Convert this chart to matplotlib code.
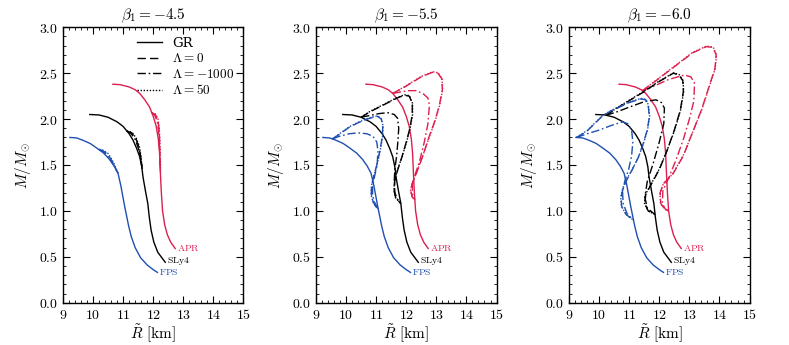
import matplotlib
matplotlib.use("Agg")
import matplotlib.pyplot as plt
from matplotlib.ticker import MultipleLocator, FormatStrFormatter

plt.rcParams.update({
    'font.family': 'serif',
    'font.serif': ['DejaVu Serif'],
    'mathtext.fontset': 'cm',
    'axes.linewidth': 1.0,
})

# GR sequences (same in every panel), (R [km], M/Msun)
fps_gr = [(9.23, 1.80), (9.45, 1.795), (9.66, 1.77), (9.9, 1.735), (10.1, 1.69), (10.35, 1.63),
          (10.55, 1.56), (10.7, 1.49), (10.83, 1.41), (10.92, 1.28), (11.0, 1.14), (11.05, 1.05),
          (11.1, 0.97), (11.18, 0.84), (11.27, 0.72), (11.4, 0.6), (11.58, 0.49), (11.8, 0.41),
          (12.0, 0.36), (12.14, 0.33)]
sly4_gr = [(9.89, 2.05), (10.2, 2.045), (10.5, 2.02), (10.8, 1.97), (11.0, 1.92), (11.2, 1.84),
           (11.33, 1.77), (11.45, 1.68), (11.55, 1.59), (11.62, 1.48), (11.66, 1.37), (11.74, 1.22),
           (11.82, 1.08), (11.87, 0.93), (11.93, 0.79), (12.02, 0.66), (12.15, 0.55), (12.4, 0.44)]
apr_gr = [(10.66, 2.38), (10.9, 2.375), (11.2, 2.35), (11.4, 2.32), (11.55, 2.28), (11.72, 2.21),
          (11.88, 2.13), (12.0, 2.03), (12.1, 1.92), (12.17, 1.78), (12.21, 1.63), (12.24, 1.4),
          (12.27, 1.2), (12.31, 1.0), (12.38, 0.85), (12.47, 0.74), (12.58, 0.66), (12.73, 0.59)]

# beta1 = -4.5
fps_b45_lam0 = [(10.2, 1.67), (10.33, 1.655), (10.48, 1.62), (10.6, 1.56), (10.7, 1.5), (10.78, 1.44), (10.83, 1.41)]
fps_b45_lamm1000 = [(10.2, 1.67), (10.32, 1.65), (10.46, 1.61), (10.58, 1.55), (10.7, 1.49), (10.83, 1.41)]
fps_b45_lam50 = [(10.2, 1.67), (10.34, 1.66), (10.5, 1.625), (10.62, 1.565), (10.72, 1.5), (10.79, 1.44), (10.83, 1.41)]
sly4_b45_lam0 = [(11.12, 1.87), (11.28, 1.85), (11.42, 1.79), (11.52, 1.7), (11.58, 1.6), (11.62, 1.5), (11.63, 1.46)]
sly4_b45_lamm1000 = [(11.12, 1.87), (11.26, 1.845), (11.4, 1.78), (11.5, 1.69), (11.57, 1.59), (11.63, 1.46)]
sly4_b45_lam50 = [(11.12, 1.87), (11.3, 1.855), (11.44, 1.79), (11.54, 1.7), (11.59, 1.6), (11.62, 1.5), (11.63, 1.46)]
apr_b45_lam0 = [(11.95, 2.07), (12.07, 2.05), (12.15, 1.99), (12.19, 1.9), (12.21, 1.78), (12.22, 1.65), (12.23, 1.5), (12.24, 1.42)]
apr_b45_lamm1000 = [(11.95, 2.07), (12.05, 2.04), (12.13, 1.98), (12.17, 1.89), (12.2, 1.76), (12.24, 1.42)]
apr_b45_lam50 = [(11.95, 2.07), (12.08, 2.055), (12.16, 2.0), (12.2, 1.9), (12.22, 1.78), (12.23, 1.65), (12.24, 1.5), (12.24, 1.42)]

# beta1 = -5.5
fps_b55_lam0 = [(9.55, 1.785), (9.8, 1.84), (10.1, 1.91), (10.4, 1.96), (10.7, 2.0), (10.9, 2.02), (11.05, 2.03),
                (11.17, 2.0), (11.22, 1.92), (11.2, 1.8), (11.12, 1.65), (11.02, 1.5), (10.92, 1.38),
                (10.85, 1.27), (10.84, 1.18), (10.9, 1.1), (10.98, 1.05), (11.07, 1.02)]
fps_b55_lamm1000 = [(9.55, 1.785), (9.8, 1.815), (10.1, 1.84), (10.4, 1.85), (10.7, 1.84), (10.9, 1.81),
                    (11.02, 1.75), (11.06, 1.65), (11.03, 1.5), (10.95, 1.38), (10.88, 1.27), (10.88, 1.17),
                    (10.95, 1.09), (11.07, 1.02)]
fps_b55_lam50 = [(9.55, 1.785), (9.8, 1.845), (10.1, 1.915), (10.4, 1.965), (10.7, 2.005), (10.9, 2.025), (11.05, 2.035),
                 (11.18, 2.0), (11.23, 1.92), (11.21, 1.8), (11.13, 1.65), (11.03, 1.5), (10.92, 1.38),
                 (10.84, 1.27), (10.83, 1.18), (10.89, 1.1), (10.98, 1.05), (11.07, 1.02)]
sly4_b55_lam0 = [(10.5, 2.02), (10.8, 2.08), (11.1, 2.13), (11.4, 2.18), (11.7, 2.23), (11.93, 2.26), (12.1, 2.25),
                 (12.2, 2.17), (12.2, 2.05), (12.12, 1.9), (12.0, 1.75), (11.85, 1.58), (11.72, 1.45),
                 (11.62, 1.33), (11.6, 1.22), (11.65, 1.14), (11.82, 1.08)]
sly4_b55_lamm1000 = [(10.5, 2.02), (10.8, 2.04), (11.1, 2.06), (11.38, 2.07), (11.6, 2.05), (11.71, 2.01),
                     (11.75, 1.9), (11.72, 1.75), (11.68, 1.6), (11.62, 1.45), (11.6, 1.32), (11.62, 1.2),
                     (11.7, 1.13), (11.82, 1.08)]
sly4_b55_lam50 = [(10.5, 2.02), (10.8, 2.085), (11.1, 2.135), (11.4, 2.185), (11.7, 2.235), (11.94, 2.265), (12.11, 2.255),
                  (12.21, 2.17), (12.21, 2.05), (12.13, 1.9), (12.01, 1.75), (11.85, 1.58), (11.71, 1.45),
                  (11.61, 1.33), (11.59, 1.22), (11.65, 1.14), (11.82, 1.08)]
apr_b55_lam0 = [(11.55, 2.28), (11.9, 2.34), (12.2, 2.4), (12.5, 2.46), (12.87, 2.51), (13.05, 2.5), (13.18, 2.44),
                (13.2, 2.32), (13.1, 2.15), (12.95, 1.98), (12.75, 1.8), (12.55, 1.6), (12.35, 1.42),
                (12.2, 1.3), (12.15, 1.22), (12.2, 1.15), (12.29, 1.12)]
apr_b55_lamm1000 = [(11.55, 2.28), (11.9, 2.3), (12.1, 2.31), (12.32, 2.31), (12.55, 2.28), (12.72, 2.23),
                    (12.77, 2.15), (12.72, 1.95), (12.6, 1.75), (12.45, 1.55), (12.3, 1.4), (12.2, 1.28),
                    (12.21, 1.18), (12.29, 1.12)]
apr_b55_lam50 = [(11.55, 2.28), (11.9, 2.345), (12.2, 2.405), (12.5, 2.465), (12.88, 2.515), (13.06, 2.505), (13.19, 2.44),
                 (13.21, 2.32), (13.11, 2.15), (12.96, 1.98), (12.76, 1.8), (12.55, 1.6), (12.34, 1.42),
                 (12.19, 1.3), (12.14, 1.22), (12.19, 1.15), (12.29, 1.12)]

# beta1 = -6.0
fps_b60_lam0 = [(9.25, 1.80), (9.6, 1.87), (10.1, 2.03), (10.4, 2.09), (10.67, 2.13), (11.0, 2.18), (11.39, 2.22),
                (11.55, 2.21), (11.63, 2.15), (11.67, 2.03), (11.6, 1.88), (11.45, 1.72), (11.3, 1.58),
                (11.1, 1.45), (10.94, 1.35), (10.8, 1.25), (10.73, 1.15), (10.75, 1.05), (10.9, 0.96), (11.14, 0.9)]
fps_b60_lamm1000 = [(9.25, 1.80), (9.6, 1.84), (10.0, 1.88), (10.4, 1.93), (10.78, 1.97), (10.95, 1.95),
                    (11.08, 1.88), (11.12, 1.75), (11.08, 1.6), (10.98, 1.45), (10.85, 1.32), (10.78, 1.2),
                    (10.8, 1.08), (10.93, 0.97), (11.14, 0.9)]
fps_b60_lam50 = [(9.25, 1.80), (9.6, 1.875), (10.1, 2.035), (10.4, 2.095), (10.67, 2.135), (11.0, 2.185), (11.4, 2.225),
                 (11.56, 2.215), (11.64, 2.15), (11.68, 2.03), (11.61, 1.88), (11.46, 1.72), (11.3, 1.58),
                 (11.1, 1.45), (10.93, 1.35), (10.79, 1.25), (10.72, 1.15), (10.74, 1.05), (10.9, 0.96), (11.14, 0.9)]
sly4_b60_lam0 = [(10.22, 2.04), (10.6, 2.12), (11.0, 2.2), (11.5, 2.3), (12.0, 2.41), (12.47, 2.5), (12.65, 2.48),
                 (12.78, 2.42), (12.8, 2.3), (12.7, 2.1), (12.5, 1.88), (12.25, 1.65), (12.0, 1.45),
                 (11.75, 1.3), (11.55, 1.18), (11.52, 1.08), (11.63, 1.0), (11.86, 0.96)]
sly4_b60_lamm1000 = [(10.22, 2.04), (10.6, 2.08), (11.0, 2.13), (11.5, 2.19), (11.89, 2.21), (12.07, 2.18),
                     (12.17, 2.12), (12.15, 1.95), (12.0, 1.75), (11.8, 1.52), (11.6, 1.32), (11.52, 1.15),
                     (11.6, 1.03), (11.86, 0.96)]
sly4_b60_lam50 = [(10.22, 2.04), (10.6, 2.125), (11.0, 2.205), (11.5, 2.305), (12.0, 2.415), (12.48, 2.505), (12.66, 2.485),
                  (12.79, 2.42), (12.81, 2.3), (12.71, 2.1), (12.51, 1.88), (12.25, 1.65), (11.99, 1.45),
                  (11.74, 1.3), (11.54, 1.18), (11.51, 1.08), (11.63, 1.0), (11.86, 0.96)]
apr_b60_lam0 = [(11.44, 2.31), (11.9, 2.42), (12.3, 2.52), (12.7, 2.62), (13.1, 2.72), (13.56, 2.79), (13.78, 2.78),
                (13.89, 2.7), (13.85, 2.55), (13.65, 2.35), (13.4, 2.1), (13.1, 1.85), (12.8, 1.6),
                (12.45, 1.4), (12.15, 1.3), (12.03, 1.2), (12.05, 1.08), (12.18, 1.02), (12.31, 1.0)]
apr_b60_lamm1000 = [(11.44, 2.31), (11.9, 2.37), (12.3, 2.43), (12.83, 2.48), (13.05, 2.46), (13.17, 2.39),
                    (13.15, 2.2), (13.0, 2.0), (12.8, 1.78), (12.55, 1.55), (12.3, 1.35), (12.12, 1.22),
                    (12.1, 1.08), (12.2, 1.02), (12.31, 1.0)]
apr_b60_lam50 = [(11.44, 2.31), (11.9, 2.425), (12.3, 2.525), (12.7, 2.625), (13.1, 2.725), (13.57, 2.795), (13.79, 2.785),
                 (13.9, 2.7), (13.86, 2.55), (13.66, 2.35), (13.41, 2.1), (13.1, 1.85), (12.79, 1.6),
                 (12.44, 1.4), (12.14, 1.3), (12.02, 1.2), (12.04, 1.08), (12.18, 1.02), (12.31, 1.0)]

betas = ['-4.5', '-5.5', '-6.0']
eos_names = ['APR', 'SLy4', 'FPS']
eos_colors = {'APR': '#dc1f4f', 'SLy4': 'black', 'FPS': '#1f4fb0'}
gr_curves = {'APR': apr_gr, 'SLy4': sly4_gr, 'FPS': fps_gr}
lam_labels = [r'$\Lambda = 0$', r'$\Lambda = -1000$', r'$\Lambda = 50$']
lam_dashes = [(6, 3), (6, 2, 1.2, 2), (1, 1.2)]
eos_label_pos = {'APR': (12.8, 0.6), 'SLy4': (12.47, 0.45), 'FPS': (12.2, 0.33)}

scalar = {
    '-4.5': {'APR': [apr_b45_lam0, apr_b45_lamm1000, apr_b45_lam50],
             'SLy4': [sly4_b45_lam0, sly4_b45_lamm1000, sly4_b45_lam50],
             'FPS': [fps_b45_lam0, fps_b45_lamm1000, fps_b45_lam50]},
    '-5.5': {'APR': [apr_b55_lam0, apr_b55_lamm1000, apr_b55_lam50],
             'SLy4': [sly4_b55_lam0, sly4_b55_lamm1000, sly4_b55_lam50],
             'FPS': [fps_b55_lam0, fps_b55_lamm1000, fps_b55_lam50]},
    '-6.0': {'APR': [apr_b60_lam0, apr_b60_lamm1000, apr_b60_lam50],
             'SLy4': [sly4_b60_lam0, sly4_b60_lamm1000, sly4_b60_lam50],
             'FPS': [fps_b60_lam0, fps_b60_lamm1000, fps_b60_lam50]},
}

fig = plt.figure(figsize=(7.89, 3.45), dpi=100)
lefts = [0.0798, 0.4005, 0.7212]

for i, beta in enumerate(betas):
    ax = fig.add_axes([lefts[i], 0.1226, 0.2288, 0.7983])
    for eos in eos_names:
        c = eos_colors[eos]
        r, m = zip(*gr_curves[eos])
        ax.plot(r, m, color=c, lw=1.0, ls='-')
        for pts, d in zip(scalar[beta][eos], lam_dashes):
            r, m = zip(*pts)
            ax.plot(r, m, color=c, lw=1.0, dashes=d)
        x, y = eos_label_pos[eos]
        ax.text(x, y, r'$\mathrm{%s}$' % eos, color=c, fontsize=7, va='center', ha='left')

    ax.set_xlim(9, 15)
    ax.set_ylim(0, 3)
    ax.xaxis.set_major_locator(MultipleLocator(1))
    ax.xaxis.set_minor_locator(MultipleLocator(0.2))
    ax.yaxis.set_major_locator(MultipleLocator(0.5))
    ax.yaxis.set_minor_locator(MultipleLocator(0.1))
    ax.xaxis.set_major_formatter(FormatStrFormatter(r'$%d$'))
    ax.yaxis.set_major_formatter(FormatStrFormatter(r'$%.1f$'))
    ax.tick_params(which='both', direction='in', top=True, right=True, labelsize=10)
    ax.tick_params(which='major', length=5, width=0.8)
    ax.tick_params(which='minor', length=2.5, width=0.6)
    ax.set_title(r'$\beta_1 = %s$' % beta, fontsize=11, pad=6)
    ax.set_xlabel(r'$\tilde{R}\ \mathrm{[km]}$', fontsize=11, labelpad=0.5)
    ax.set_ylabel(r'$M/M_{\odot}$', fontsize=11)

    if i == 0:
        handles = [plt.Line2D([], [], color='black', lw=1.0, ls='-')]
        handles += [plt.Line2D([], [], color='black', lw=1.0, dashes=d) for d in lam_dashes]
        ax.legend(handles, ['GR'] + lam_labels, loc='upper right', frameon=False,
                  handlelength=1.9, handletextpad=0.8, labelspacing=0.2,
                  borderaxespad=0.3, prop={'family': 'serif', 'size': 9.5})

fig.savefig('out.png', dpi=100)
